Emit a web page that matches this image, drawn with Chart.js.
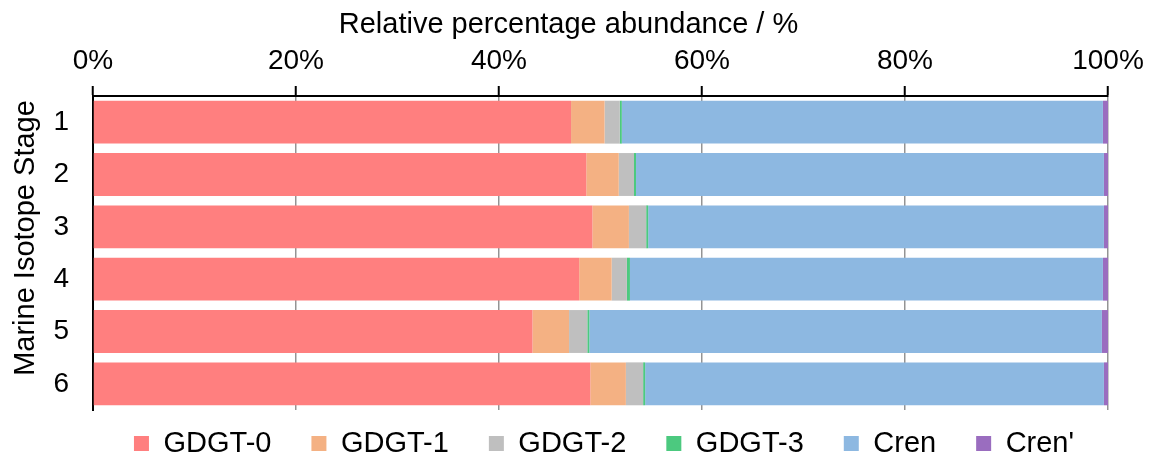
<!DOCTYPE html>
<html>
<head>
<meta charset="utf-8">
<script src="https://cdn.jsdelivr.net/npm/chart.js@4.4.1/dist/chart.umd.min.js"></script>
<style>
  html, body { margin: 0; padding: 0; background: #fff; }
  #wrap { width: 1165px; height: 459px; }
</style>
</head>
<body>
<div id="wrap"><canvas id="chart" width="1165" height="459"></canvas></div>
<script>
const stages = ["1", "2", "3", "4", "5", "6"];
const seriesNames = ["GDGT-0", "GDGT-1", "GDGT-2", "GDGT-3", "Cren", "Cren'"];
const gdgt0 = [47.1, 48.6, 49.2, 47.9, 43.3, 49.0];
const gdgt1 = [3.3, 3.2, 3.6, 3.2, 3.6, 3.5];
const gdgt2 = [1.5, 1.5, 1.7, 1.5, 1.8, 1.7];
const gdgt3 = [0.2, 0.2, 0.2, 0.3, 0.2, 0.2];
const cren = [47.4, 46.1, 44.9, 46.6, 50.5, 45.2];
const crenPrime = [0.5, 0.4, 0.4, 0.5, 0.6, 0.4];
const xTicks = [0, 20, 40, 60, 80, 100];

const xTitle = "Relative percentage abundance / %";
const yTitle = "Marine Isotope Stage";
const colors = ["#FF7F7F", "#F4B183", "#BFBFBF", "#4CC97F", "#8DB8E1", "#9A6DBF"];

const FONT = "'Liberation Sans', Arial, sans-serif";
Chart.defaults.font.family = FONT;
Chart.defaults.font.size = 28;
Chart.defaults.color = "#000";

// axis titles sit a bit off-centre in the original, so draw them by hand
const axisTitles = {
    id: "axisTitles",
    afterDraw(chart) {
        const ctx = chart.ctx;
        const area = chart.chartArea;
        ctx.save();
        ctx.font = "29px " + FONT;
        ctx.fillStyle = "#000";
        ctx.textAlign = "center";
        ctx.textBaseline = "alphabetic";
        ctx.fillText(xTitle, (area.left + area.right) / 2 - 32, 33);
        ctx.translate(34, (area.top + area.bottom) / 2 - 15);
        ctx.rotate(-Math.PI / 2);
        ctx.fillText(yTitle, 0, 0);
        ctx.restore();
    }
};

// move the legend: wide item padding would push it off the canvas,
// and it is centred a little right of the plot in the original
const legendShift = {
    id: "legendShift",
    afterLayout(chart) {
        const lg = chart.legend;
        if (!lg) return;
        lg.top -= 21;
        lg.left += 50;
        lg.right += 50;
    }
};

const allSeries = [gdgt0, gdgt1, gdgt2, gdgt3, cren, crenPrime];

new Chart(document.getElementById("chart"), {
    type: "bar",
    data: {
        labels: stages,
        datasets: allSeries.map((vals, i) => ({
            label: seriesNames[i],
            data: vals,
            backgroundColor: colors[i],
            borderWidth: 0,
            barPercentage: 0.82,
            categoryPercentage: 1
        }))
    },
    options: {
        indexAxis: "y",
        responsive: false,
        animation: false,
        layout: { padding: { left: 0, right: 57, top: 0, bottom: 0 } },
        scales: {
            x: {
                position: "top",
                stacked: true,
                min: 0,
                max: 100,
                z: 1,
                afterBuildTicks(scale) {
                    scale.ticks = xTicks.map(v => ({ value: v }));
                },
                afterFit(scale) { scale.height = 96; },
                ticks: {
                    padding: 8,
                    color: "#000",
                    font: { size: 28 },
                    callback: v => v + "%"
                },
                grid: {
                    color: "rgba(0,0,0,0.42)",
                    lineWidth: 1.5,
                    tickColor: "#000",
                    tickLength: 10,
                    tickWidth: 2
                },
                border: { display: true, color: "#000", width: 2 }
            },
            y: {
                stacked: true,
                z: 1,
                afterFit(scale) { scale.width = 93; },
                ticks: { padding: 24, color: "#000", font: { size: 28 } },
                grid: { display: false, drawTicks: false },
                border: { display: true, color: "#000", width: 2 }
            }
        },
        plugins: {
            legend: {
                position: "bottom",
                maxHeight: 49,
                labels: {
                    boxWidth: 15,
                    boxHeight: 15,
                    padding: 40,
                    color: "#000",
                    font: { size: 29 }
                }
            },
            tooltip: { enabled: false }
        }
    },
    plugins: [axisTitles, legendShift]
});
</script>
</body>
</html>
